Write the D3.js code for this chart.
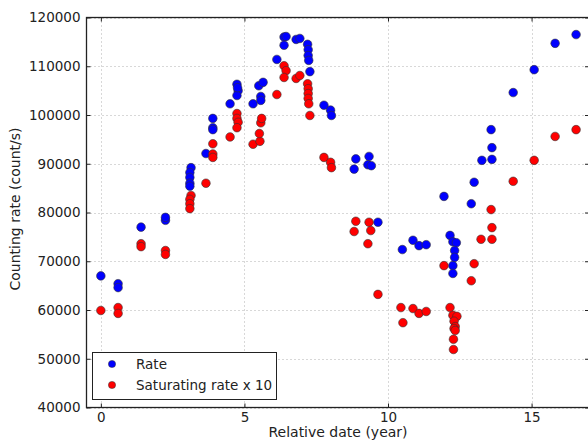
<!DOCTYPE html>
<html><head><meta charset="utf-8">
<script src="https://cdn.jsdelivr.net/npm/d3@7"></script>
<style>body{margin:0;background:#fff}svg{display:block;font-family:"DejaVu Sans",sans-serif}</style>
</head><body>
<svg id="c" width="588" height="441"></svg>
<script>
const rateX = [0,0.6,0.6,1.4,2.25,2.25,3.14,3.1,3.1,3.1,3.1,3.66,3.9,3.9,3.9,4.5,4.74,4.78,4.74,4.76,5.3,5.5,5.57,5.57,5.65,6.13,6.38,6.45,6.38,6.8,6.93,7.2,7.22,7.22,7.24,7.28,7.77,8.0,8.03,8.88,8.82,9.34,9.3,9.42,9.65,10.5,10.87,11.08,11.33,11.95,12.16,12.26,12.38,12.32,12.32,12.26,12.26,12.9,13.0,13.27,13.62,13.59,13.62,14.36,15.09,15.82,16.55];
const rateY = [67000,65400,64600,77000,78400,79000,89200,88200,87200,86000,85400,92100,99300,97400,97000,102300,106300,105000,104000,105600,102300,106000,103800,103000,106700,111400,116000,116100,114300,115500,115700,114500,113400,112200,111200,108900,102000,101000,99900,91000,88900,91500,89800,89600,78000,72400,74300,73200,73400,83300,75300,74000,73800,72200,70800,69100,67500,81800,86200,90700,90900,97000,93300,104600,109300,114700,116500];
const satX = [0,0.6,0.6,1.4,1.4,2.25,2.25,3.14,3.1,3.1,3.1,3.66,3.9,3.9,3.9,4.5,4.74,4.74,4.78,4.74,5.3,5.54,5.57,5.6,5.52,6.13,6.38,6.45,6.38,6.8,6.93,7.2,7.22,7.22,7.22,7.24,7.28,7.77,8.0,8.03,8.88,8.82,9.34,9.4,9.3,9.65,10.45,10.52,10.87,11.08,11.33,11.95,12.16,12.26,12.4,12.3,12.34,12.3,12.34,12.28,12.28,12.9,13.0,13.24,13.62,13.62,13.59,14.36,15.09,15.82,16.55];
const satY = [59900,60500,59300,73600,73000,72200,71400,83500,82700,81800,80800,86000,94100,92000,91300,95500,100300,99300,98500,97400,94000,94600,98400,99300,96200,104200,110100,109100,107700,107500,108100,106400,105400,104400,103400,102300,99900,91300,90300,89200,78200,76100,78000,76300,73600,63200,60500,57400,60300,59300,59700,69100,60500,58900,58700,57700,56600,56200,55800,54000,51900,66000,69500,74500,74500,76900,80600,86400,90700,95600,97000];
const xTicks = [0,5,10,15];
const yTicks = [40000,50000,60000,70000,80000,90000,100000,110000,120000];
const seriesNames = ["Rate","Saturating rate x 10"];
const seriesColors = ["#0000ff","#ff0000"];

const svg = d3.select("#c");
const L=86.5, R=589, T=17.5, B=407.5;
const x = d3.scaleLinear().domain([-0.5,17]).range([L,R]);
const y = d3.scaleLinear().domain([40000,120000]).range([B,T]);

const g = svg.append("g");
g.selectAll(".gx").data(xTicks).join("line")
  .attr("x1",d=>Math.round(x(d))+0.5).attr("x2",d=>Math.round(x(d))+0.5).attr("y1",T).attr("y2",B)
  .attr("stroke","#b0b0b0").attr("stroke-dasharray","1,3").attr("stroke-width",1);
g.selectAll(".gy").data(yTicks).join("line")
  .attr("y1",d=>Math.round(y(d))+0.5).attr("y2",d=>Math.round(y(d))+0.5).attr("x1",L).attr("x2",R)
  .attr("stroke","#b0b0b0").attr("stroke-dasharray","1,3").attr("stroke-width",1);

const xa = svg.append("g").attr("transform",`translate(0,${B})`)
  .call(d3.axisBottom(x).tickValues(xTicks).tickSize(-4).tickPadding(5).tickFormat(d3.format("d")));
const ya = svg.append("g").attr("transform",`translate(${L},0)`)
  .call(d3.axisLeft(y).tickValues(yTicks).tickSize(-4).tickPadding(6).tickFormat(d3.format("d")));
const yr = svg.append("g").attr("transform",`translate(${R},0)`)
  .call(d3.axisRight(y).tickValues(yTicks).tickSize(-4).tickFormat(""));
const xt = svg.append("g").attr("transform",`translate(0,${T})`)
  .call(d3.axisTop(x).tickValues(xTicks).tickSize(-4).tickFormat(""));
[xa,ya,yr,xt].forEach(a=>{
  a.select(".domain").remove();
  a.selectAll("line").attr("stroke","#222");
  a.selectAll("text").attr("fill","#222").style("font-size","13.5px").style("font-family","DejaVu Sans");
});
svg.append("rect").attr("x",L).attr("y",T).attr("width",R-L).attr("height",B-T)
  .attr("fill","none").attr("stroke","#222").attr("stroke-width",1.3);

const drawPts = (xs,ys,col)=>{
  svg.append("g").selectAll("circle").data(xs.map((d,i)=>[d,ys[i]])).join("circle")
    .attr("cx",d=>x(d[0])).attr("cy",d=>y(d[1])).attr("r",4.3)
    .attr("fill",col).attr("stroke","#333").attr("stroke-width",0.6);
};
drawPts(rateX,rateY,seriesColors[0]);
drawPts(satX,satY,seriesColors[1]);

svg.append("text").attr("x",338).attr("y",437).attr("text-anchor","middle")
  .style("font-size","14px").attr("fill","#222").text("Relative date (year)");
svg.append("text").attr("transform",`translate(20,209) rotate(-90)`).attr("text-anchor","middle")
  .style("font-size","14px").attr("fill","#222").text("Counting rate (count/s)");

const lg = svg.append("g");
lg.append("rect").attr("x",92.5).attr("y",352.5).attr("width",184).attr("height",47)
  .attr("fill","#fff").attr("stroke","#222").attr("stroke-width",1);
seriesNames.forEach((n,i)=>{
  lg.append("circle").attr("cx",112).attr("cy",364+i*21).attr("r",3.6)
    .attr("fill",seriesColors[i]).attr("stroke","#333").attr("stroke-width",0.5);
  lg.append("text").attr("x",136).attr("y",364+i*21).attr("dy","0.36em")
    .style("font-size","13.5px").attr("fill","#222").text(n);
});
</script>
</body></html>
